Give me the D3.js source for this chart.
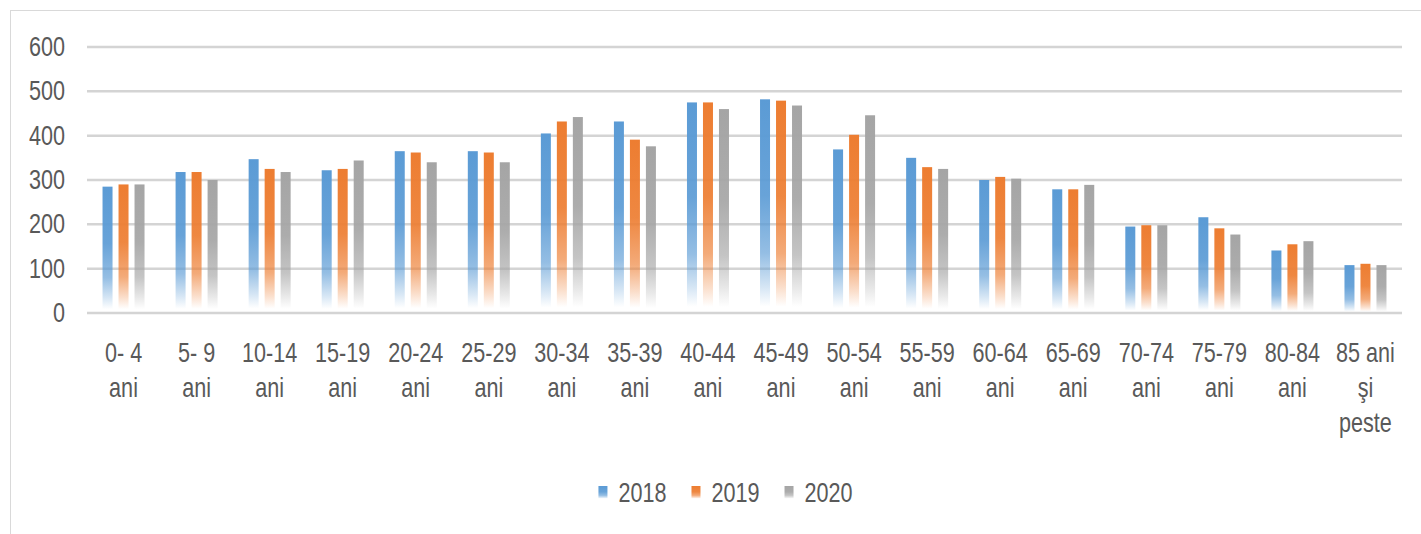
<!DOCTYPE html>
<html>
<head>
<meta charset="utf-8">
<script src="https://cdn.jsdelivr.net/npm/d3@7"></script>
<style>
  body { margin: 0; background: #fff; }
  text { font-family: "Liberation Sans", Arial, sans-serif; fill: #595959; }
</style>
</head>
<body>
<div id="chart"></div>
<script>
// age groups, lines of each label split by "\n"
var categories = ["0- 4\nani", "5- 9\nani", "10-14\nani", "15-19\nani", "20-24\nani", "25-29\nani",
  "30-34\nani", "35-39\nani", "40-44\nani", "45-49\nani", "50-54\nani", "55-59\nani",
  "60-64\nani", "65-69\nani", "70-74\nani", "75-79\nani", "80-84\nani", "85 ani\nşi\npeste"];
var years = ["2018", "2019", "2020"];
var values2018 = [285, 318, 347, 322, 365, 365, 405, 432, 475, 482, 369, 350, 300, 279, 195, 216, 141, 108];
var values2019 = [290, 318, 325, 325, 362, 362, 432, 391, 475, 479, 402, 329, 307, 279, 198, 191, 155, 111];
var values2020 = [290, 300, 318, 344, 340, 340, 442, 376, 460, 468, 446, 325, 303, 289, 198, 177, 162, 108];
var yTicks = [0, 100, 200, 300, 400, 500, 600];
var colors = ["#5B9BD5", "#ED7D31", "#A5A5A5"];

var series = [values2018, values2019, values2020];
var squeeze = 0.8; // the original font is a narrow one

var width = 1421, height = 534;
var svg = d3.select("#chart").append("svg")
  .attr("width", width)
  .attr("height", height);

// chart area border (only top and left edges are visible in the frame)
svg.append("rect")
  .attr("x", 10.5).attr("y", 10.5)
  .attr("width", 1430).attr("height", 540)
  .attr("fill", "none")
  .attr("stroke", "#d9d9d9");

var x0 = d3.scaleBand().domain(categories).range([87, 1402]);
var groupW = 42;
var x1 = d3.scaleBand().domain(years).range([0, groupW]).paddingInner(0.375);
var y = d3.scaleLinear().domain([0, 600]).range([313, 47]);

// gradients: solid on top, fading out toward the base
var defs = svg.append("defs");
years.forEach(function(yr, i) {
  var g = defs.append("linearGradient")
    .attr("id", "grad" + yr)
    .attr("x1", 0).attr("y1", 0).attr("x2", 0).attr("y2", 1);
  [[0, 1], [0.45, 0.92], [0.72, 0.65], [0.88, 0.25], [0.97, 0]].forEach(function(s) {
    g.append("stop").attr("offset", s[0]).attr("stop-color", colors[i]).attr("stop-opacity", s[1]);
  });
});

// gridlines
svg.append("g").selectAll("line")
  .data(yTicks)
  .enter().append("line")
  .attr("x1", 87).attr("x2", 1402)
  .attr("y1", function(d) { return y(d); })
  .attr("y2", function(d) { return y(d); })
  .attr("stroke", "#d4d4d4")
  .attr("stroke-width", 2.5);

// y axis labels
var yAxis = svg.append("g")
  .attr("transform", "translate(77,0)")
  .call(d3.axisLeft(y).tickValues(yTicks).tickSize(0).tickPadding(12));
yAxis.select(".domain").remove();
yAxis.selectAll("text")
  .attr("font-size", 27)
  .attr("font-family", null)
  .attr("fill", "#595959")
  .attr("x", 0)
  .attr("transform", "translate(-12,0) scale(" + squeeze + ",1)");

// bars
var groups = svg.append("g").selectAll("g")
  .data(categories)
  .enter().append("g")
  .attr("transform", function(d) { return "translate(" + (x0(d) + (x0.bandwidth() - groupW) / 2) + ",0)"; });

groups.selectAll("rect")
  .data(function(d, i) { return years.map(function(yr, k) { return { year: yr, value: series[k][i] }; }); })
  .enter().append("rect")
  .attr("x", function(d) { return x1(d.year); })
  .attr("y", function(d) { return y(d.value); })
  .attr("width", x1.bandwidth())
  .attr("height", function(d) { return y(0) - y(d.value); })
  .attr("fill", function(d) { return "url(#grad" + d.year + ")"; });

// x axis labels, multi-line
var xAxis = svg.append("g")
  .attr("transform", "translate(0,313)")
  .call(d3.axisBottom(x0).tickSize(0).tickFormat(""));
xAxis.select(".domain").remove();
xAxis.selectAll(".tick").append("text")
  .attr("text-anchor", "middle")
  .attr("font-size", 27)
  .attr("fill", "#595959")
  .attr("transform", "scale(" + squeeze + ",1)")
  .each(function(d) {
    var t = d3.select(this);
    d.split("\n").forEach(function(line, i) {
      t.append("tspan").attr("x", 0).attr("y", 49 + i * 35).text(line);
    });
  });

// legend
var legend = svg.append("g");
var lx = 0;
years.forEach(function(yr, i) {
  legend.append("rect")
    .attr("x", lx).attr("y", 486)
    .attr("width", 9).attr("height", 13)
    .attr("fill", "url(#grad" + yr + ")");
  var t = legend.append("text")
    .attr("transform", "translate(" + (lx + 20) + ",502) scale(" + squeeze + ",1)")
    .attr("font-size", 27)
    .text(yr);
  lx += 20 + t.node().getComputedTextLength() * squeeze + 25;
});
var lw = lx - 25;
legend.attr("transform", "translate(" + (725.5 - lw / 2) + ",0)");
</script>
</body>
</html>
